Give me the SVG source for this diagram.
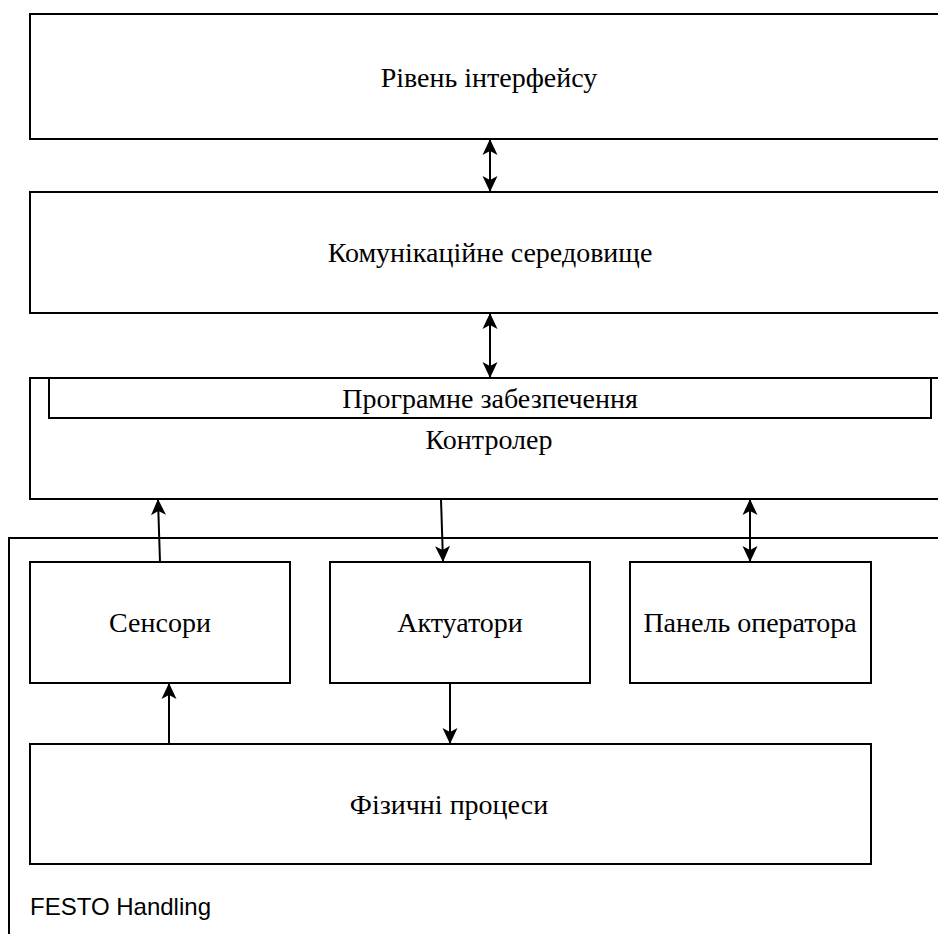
<svg xmlns="http://www.w3.org/2000/svg" width="938" height="934" viewBox="0 0 938 934">
<style>
.box{fill:#fff;stroke:#000;stroke-width:2}
.t{font-family:"Liberation Serif","Times New Roman",serif;font-size:28px;fill:#000;text-anchor:middle;dominant-baseline:central}
.s{font-family:"Liberation Sans",Arial,sans-serif;font-size:24px;fill:#000}
.c{fill:none;stroke:#000;stroke-width:2}
</style>
<defs>
<marker id="a" viewBox="0 0 16 16" refX="15" refY="8" markerWidth="16" markerHeight="16" markerUnits="userSpaceOnUse" orient="auto-start-reverse">
<path d="M0,0.5 L16,8 L0,15.5 L4,8 z" fill="#000"/>
</marker>
</defs>
<rect width="938" height="934" fill="#fff"/>
<g id="festo">
<rect class="box" x="9" y="538" width="940" height="410"/>
<text class="s" x="30" y="915">FESTO Handling</text>
</g>
<g id="interface">
<rect class="box" x="30" y="14" width="920" height="125"/>
<text class="t" x="489" y="77">Рівень інтерфейсу</text>
</g>
<g id="comm">
<rect class="box" x="30" y="192" width="920" height="121"/>
<text class="t" x="490" y="252">Комунікаційне середовище</text>
</g>
<g id="controller">
<rect class="box" x="30" y="378" width="920" height="121"/>
<text class="t" x="489" y="439">Контролер</text>
</g>
<g id="software">
<rect class="box" x="49" y="378" width="882" height="40"/>
<text class="t" x="490" y="398">Програмне забезпечення</text>
</g>
<g id="sensors">
<rect class="box" x="30" y="562" width="260" height="121"/>
<text class="t" x="160" y="622">Сенсори</text>
</g>
<g id="actuators">
<rect class="box" x="330" y="562" width="260" height="121"/>
<text class="t" x="460" y="622">Актуатори</text>
</g>
<g id="panel">
<rect class="box" x="630" y="562" width="241" height="121"/>
<text class="t" x="750" y="622">Панель оператора</text>
</g>
<g id="physical">
<rect class="box" x="30" y="744" width="841" height="120"/>
<text class="t" x="449" y="804">Фізичні процеси</text>
</g>
<g id="connectors">
<line class="c" x1="490" y1="140" x2="490" y2="191" marker-start="url(#a)" marker-end="url(#a)"/>
<line class="c" x1="490" y1="314" x2="490" y2="377" marker-start="url(#a)" marker-end="url(#a)"/>
<line class="c" x1="160" y1="562" x2="158" y2="500" marker-end="url(#a)"/>
<line class="c" x1="441" y1="499" x2="443" y2="561" marker-end="url(#a)"/>
<line class="c" x1="750" y1="500" x2="750" y2="561" marker-start="url(#a)" marker-end="url(#a)"/>
<line class="c" x1="169" y1="744" x2="169" y2="684" marker-end="url(#a)"/>
<line class="c" x1="450" y1="683" x2="450" y2="743" marker-end="url(#a)"/>
</g>
</svg>
